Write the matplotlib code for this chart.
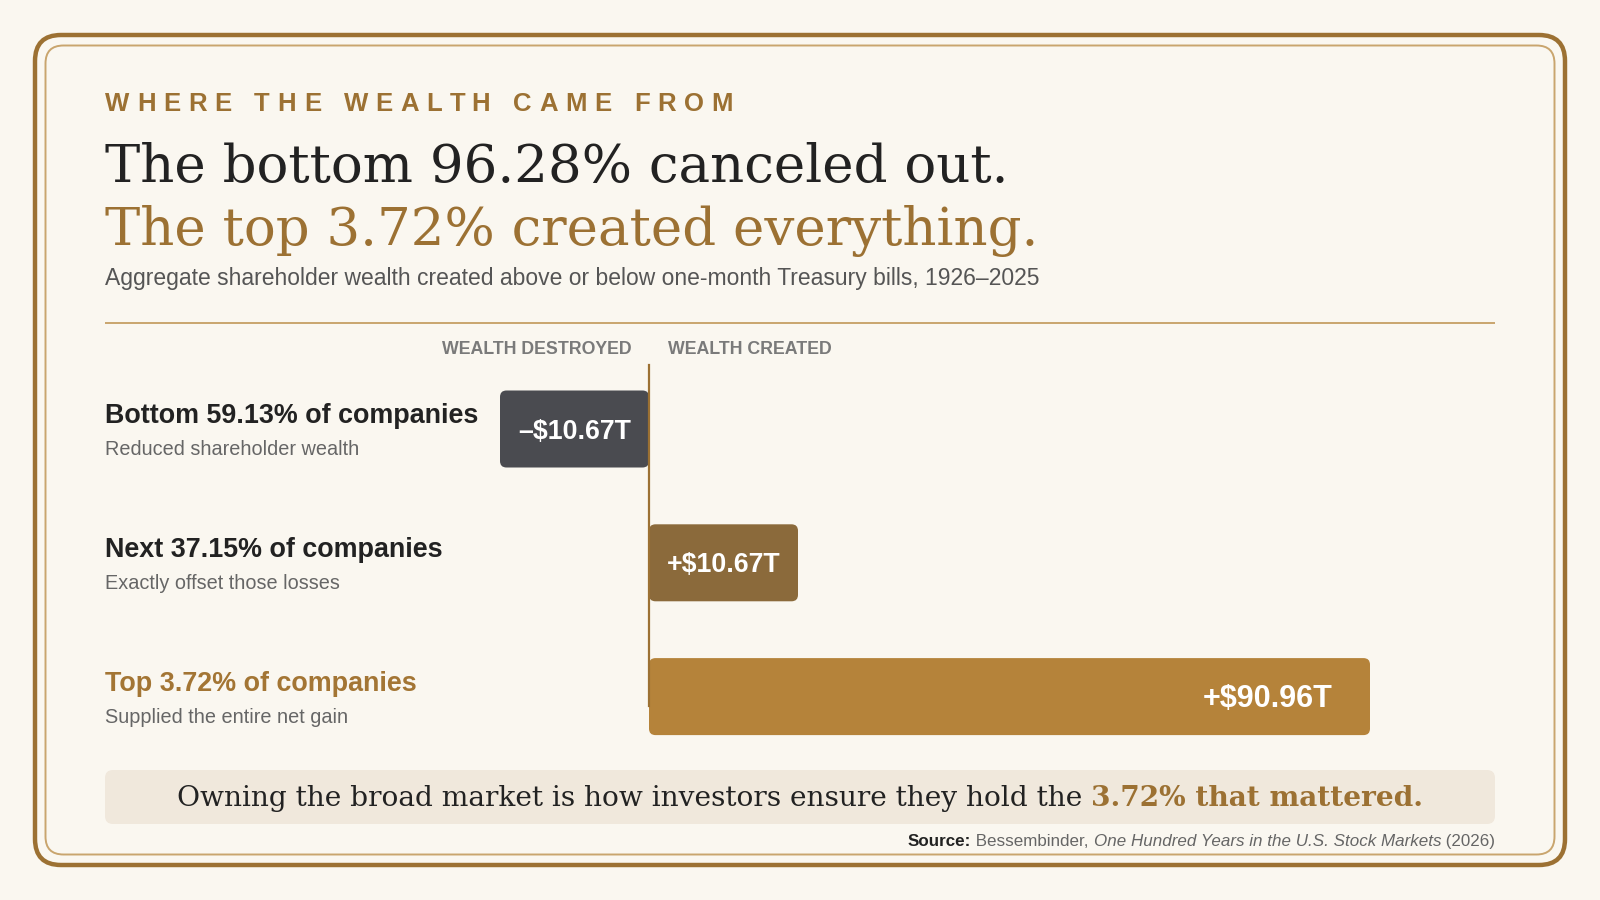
import matplotlib
matplotlib.use("Agg")
import matplotlib.pyplot as plt
import numpy as np
from matplotlib.patches import FancyBboxPatch

# data
row_titles = ["Bottom 59.13% of companies", "Next 37.15% of companies", "Top 3.72% of companies"]
row_notes = ["Reduced shareholder wealth", "Exactly offset those losses", "Supplied the entire net gain"]
wealth_t = [-10.67, 10.67, 90.96]  # trillions of dollars vs T-bills

kicker = "WHERE THE WEALTH CAME FROM"
title_1 = "The bottom 96.28% canceled out."
title_2 = "The top 3.72% created everything."
subtitle = "Aggregate shareholder wealth created above or below one-month Treasury bills, 1926\u20132025"
head_left = "WEALTH DESTROYED"
head_right = "WEALTH CREATED"
callout_plain = "Owning the broad market is how investors ensure they hold the "
callout_bold = "3.72% that mattered."

# colors
BG = "#faf7f0"
GOLD = "#9c7133"
GOLD_LIGHT = "#c9a56e"
DARK = "#222222"
GRAY = "#555555"
bar_colors = ["#4a4b50", "#8b6a3b", "#b5833a"]
title_colors = [DARK, DARK, "#a37534"]
SANS = "Liberation Sans"
SERIF = "DejaVu Serif"

W, H = 1600, 900
fig = plt.figure(figsize=(16, 9), dpi=100)
fig.patch.set_facecolor(BG)
renderer = fig.canvas.get_renderer()

# overlay axes in pixel coordinates (y from top) for frame and text
ov = fig.add_axes([0, 0, 1, 1])
ov.set_xlim(0, W)
ov.set_ylim(H, 0)
ov.set_axis_off()


def text_w(s, **kw):
    t = ov.text(0, 0, s + "|", **kw)
    w1 = t.get_window_extent(renderer).width
    t.remove()
    t = ov.text(0, 0, "|", **kw)
    w2 = t.get_window_extent(renderer).width
    t.remove()
    return w1 - w2


def fit_size(s, target, **kw):
    base = 20
    return base * target / text_w(s, fontsize=base, **kw)


def draw_run(x, y, pieces, ha="left", **common):
    widths = [text_w(s, **{**common, **kw}) for s, kw in pieces]
    total = sum(widths)
    if ha == "center":
        x -= total / 2
    elif ha == "right":
        x -= total
    for (s, kw), w in zip(pieces, widths):
        ov.text(x, y, s, ha="left", va="baseline", **{**common, **kw})
        x += w


def spaced(x, y, s, size, target, **kw):
    # letter-spaced text stretched to a target width
    adv = [text_w(s[:i], fontsize=size, **kw) for i in range(len(s) + 1)]
    track = (target - adv[-1]) / (len(s) - 1)
    for i, ch in enumerate(s):
        ov.text(x + adv[i] + i * track, y, ch, fontsize=size, va="baseline", **kw)


# frame
ov.add_patch(FancyBboxPatch((35, 35), 1530, 830, boxstyle="round,pad=0,rounding_size=26",
                            fill=False, ec=GOLD, lw=3.2))
ov.add_patch(FancyBboxPatch((45.5, 45.5), 1509, 809, boxstyle="round,pad=0,rounding_size=18",
                            fill=False, ec=GOLD_LIGHT, lw=1.4))

L, R = 105, 1495

# header texts
spaced(L, 111, kicker, 18.5, 628, family=SANS, weight="bold", color=GOLD)
ts = fit_size(title_1, 902, family=SERIF)
ov.text(L, 182, title_1, fontsize=ts, family=SERIF, color=DARK, va="baseline")
ov.text(L, 245, title_2, fontsize=ts, family=SERIF, color=GOLD, va="baseline")
ss = fit_size(subtitle, 930, family=SANS)
ov.text(L, 285, subtitle, fontsize=ss, family=SANS, color=GRAY, va="baseline")
ov.plot([L, R], [322.5, 322.5], color=GOLD_LIGHT, lw=1.4, solid_capstyle="butt")

hs = fit_size(head_left, 190, family=SANS, weight="bold")
ov.text(632, 354, head_left, fontsize=hs, family=SANS, weight="bold", color="#7a7a7a",
        ha="right", va="baseline")
ov.text(668, 354, head_right, fontsize=hs, family=SANS, weight="bold", color="#7a7a7a",
        ha="left", va="baseline")

# row labels
row_px = 133.8
rs = fit_size(row_titles[0], 374, family=SANS, weight="bold")
ns = fit_size(row_notes[0], 253, family=SANS)
for i, (t, n) in enumerate(zip(row_titles, row_notes)):
    yb = 423.3 + i * row_px
    ov.text(L, yb, t, fontsize=rs, family=SANS, weight="bold", color=title_colors[i], va="baseline")
    ov.text(L, yb + 32, n, fontsize=ns, family=SANS, color="#666666", va="baseline")

# bar axes: zero at 649 px, 90.96 at 1370 px
zero_px, full_px = 649, 1370
ppu = (full_px - zero_px) / max(wealth_t)
row0_px = 429
y_top, y_bot = row0_px - 0.6 * row_px, row0_px + 2.6 * row_px
ax = fig.add_axes([L / W, 1 - y_bot / H, (R - L) / W, (y_bot - y_top) / H])
ax.set_xlim((L - zero_px) / ppu, (R - zero_px) / ppu)
ax.set_ylim(2.6, -0.6)
ax.set_axis_off()
ax.patch.set_alpha(0)

min_w = 149 / ppu  # narrowest bar that still holds its label
bar_h = 77 / row_px
rad = 6.5 / ppu
for i, v in enumerate(wealth_t):
    w = np.sign(v) * max(abs(v), min_w)
    x0 = min(0, w)
    ax.add_patch(FancyBboxPatch((x0, i - bar_h / 2), abs(w), bar_h,
                                boxstyle=f"round,pad=0,rounding_size={rad}",
                                mutation_aspect=ppu / row_px, fc=bar_colors[i], ec="none"))
    label = ("\u2013" if v < 0 else "+") + f"${abs(v):.2f}T"
    if abs(v) > min_w:
        ax.text(w - 37 / ppu, i + 0.02, label, ha="right", va="center", color="white",
                fontsize=22, family=SANS, weight="bold")
    else:
        ax.text(x0 + abs(w) / 2, i + 0.02, label, ha="center", va="center", color="white",
                fontsize=19.3, family=SANS, weight="bold")

ax.plot([0, 0], [(365 - row0_px) / row_px, (706 - row0_px) / row_px], color=GOLD, lw=1.6)

# callout
ov.add_patch(FancyBboxPatch((L, 770), R - L, 54, boxstyle="round,pad=0,rounding_size=8",
                            fc="#f0e8dc", ec="none"))
cs = 20 * 1247 / (text_w(callout_plain, fontsize=20, family=SERIF)
                  + text_w(callout_bold, fontsize=20, family=SERIF, weight="bold"))
draw_run(800, 806, [(callout_plain, dict(color=DARK)),
                    (callout_bold, dict(color=GOLD, weight="bold"))],
         ha="center", family=SERIF, fontsize=cs)

# source line
src = [("Source:", dict(weight="bold", color=DARK)),
       (" Bessembinder, ", dict(color="#666666")),
       ("One Hundred Years in the U.S. Stock Markets", dict(style="italic", color="#666666")),
       (" (2026)", dict(color="#666666"))]
src_w = sum(text_w(s, family=SANS, fontsize=12, **kw) for s, kw in src)
draw_run(R, 846, src, ha="right", family=SANS, fontsize=12 * 584 / src_w)

fig.savefig("out.png", dpi=100, facecolor=BG)
